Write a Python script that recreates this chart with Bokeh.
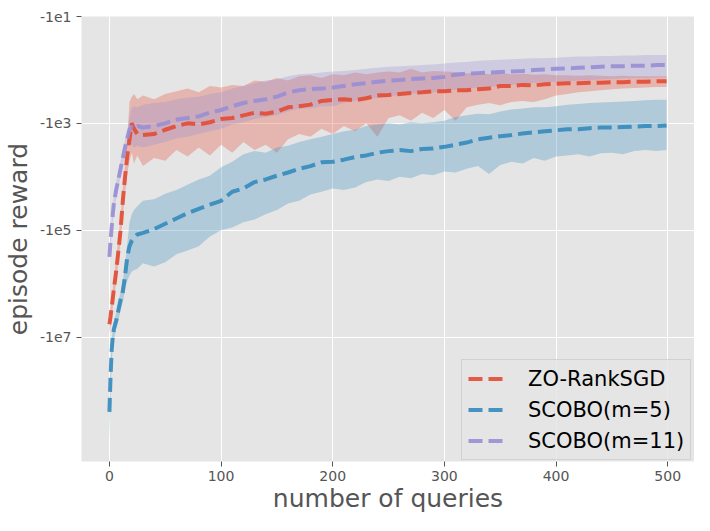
from bokeh.plotting import figure
from bokeh.models import Range1d, FixedTicker, Legend, LegendItem, ColumnDataSource
from bokeh.embed import file_html
from bokeh.resources import INLINE

# number of queries (sample positions)
queries = [0, 1, 2, 3, 4, 6, 8, 10, 12, 14, 16, 18, 20, 22, 25,
           30, 40, 50, 60, 70, 80, 90, 100, 110, 120, 130, 140, 150, 160, 170,
           180, 190, 200, 210, 220, 230, 240, 250, 260, 270, 280, 290, 300, 310,
           320, 330, 340, 350, 360, 370, 380, 390, 400, 410, 420, 430, 440, 450,
           460, 470, 480, 490, 499]

# all rewards are negative; values below are log10(-episode reward)
zo_mean = [6.76, 6.62, 6.45, 6.28, 6.1, 5.78, 5.4, 5.0, 4.45, 4.0, 3.6, 3.3, 3.0, 3.1, 3.2,
           3.22, 3.2, 3.12, 3.05, 3.0, 3.02, 2.98, 2.92, 2.9, 2.85, 2.8, 2.82, 2.78, 2.7, 2.68,
           2.65, 2.58, 2.56, 2.55, 2.57, 2.53, 2.48, 2.47, 2.45, 2.43, 2.42, 2.4, 2.4, 2.38,
           2.38, 2.36, 2.35, 2.3, 2.3, 2.28, 2.29, 2.27, 2.26, 2.25, 2.25, 2.24, 2.24, 2.23,
           2.23, 2.22, 2.22, 2.21, 2.21]
zo_top = [6.6, 6.45, 6.28, 6.1, 5.92, 5.55, 5.15, 4.75, 4.2, 3.75, 3.3, 2.6, 2.5, 2.45, 2.55,
          2.48, 2.55, 2.45, 2.4, 2.35, 2.42, 2.3, 2.33, 2.28, 2.3, 2.2, 2.22, 2.15, 2.2, 2.12,
          2.1, 2.15, 2.08, 2.1, 2.05, 2.08, 2.05, 2.03, 2.05, 1.98, 2.05, 2.02, 2.03, 2.04,
          2.06, 2.05, 2.08, 2.06, 2.08, 2.07, 2.09, 2.08, 2.1, 2.1, 2.11, 2.1, 2.11, 2.12,
          2.11, 2.12, 2.12, 2.12, 2.12]
zo_bottom = [6.95, 6.8, 6.62, 6.45, 6.28, 5.98, 5.6, 5.22, 4.75, 4.3, 3.95, 3.7, 3.55, 3.75, 3.6,
             3.8, 3.65, 3.7, 3.5, 3.62, 3.45, 3.6, 3.4, 3.55, 3.35, 3.5, 3.4, 3.55, 3.3, 3.2,
             3.25, 3.1, 3.2, 3.05, 3.15, 3.0, 3.25, 2.9, 2.85, 2.95, 2.8, 2.9, 2.75, 2.95,
             2.7, 2.65, 2.62, 2.66, 2.6, 2.58, 2.6, 2.55, 2.48, 2.45, 2.42, 2.4, 2.38, 2.36,
             2.35, 2.34, 2.33, 2.32, 2.32]

m5_mean = [8.4, 7.75, 7.25, 7.0, 6.85, 6.7, 6.5, 6.3, 6.15, 5.85, 5.5, 5.3, 5.2, 5.15, 5.08,
           5.05, 4.98, 4.88, 4.78, 4.68, 4.6, 4.52, 4.45, 4.28, 4.22, 4.1, 4.05, 3.98, 3.92, 3.85,
           3.8, 3.73, 3.72, 3.68, 3.63, 3.6, 3.55, 3.52, 3.5, 3.52, 3.48, 3.47, 3.44, 3.4,
           3.36, 3.3, 3.27, 3.24, 3.22, 3.19, 3.17, 3.15, 3.13, 3.11, 3.11, 3.09, 3.08, 3.08,
           3.07, 3.06, 3.05, 3.05, 3.04]
m5_top = [8.2, 7.6, 7.1, 6.85, 6.7, 6.55, 6.35, 6.15, 5.95, 5.65, 5.25, 4.85, 4.7, 4.62, 4.55,
          4.45, 4.42, 4.32, 4.25, 4.15, 4.05, 3.98, 3.82, 3.72, 3.58, 3.52, 3.55, 3.45, 3.42, 3.35,
          3.3, 3.25, 3.2, 3.15, 3.12, 3.05, 3.02, 3.0, 3.02, 2.98, 3.0, 2.98, 2.95, 2.88,
          2.85, 2.82, 2.83, 2.78, 2.74, 2.72, 2.7, 2.7, 2.68, 2.65, 2.64, 2.62, 2.61, 2.6,
          2.59, 2.58, 2.57, 2.56, 2.56]
m5_bottom = [8.95, 8.1, 7.5, 7.2, 7.05, 6.85, 6.7, 6.5, 6.35, 6.1, 5.95, 5.85, 5.78, 5.75, 5.72,
             5.62, 5.68, 5.6, 5.45, 5.38, 5.3, 5.12, 5.0, 4.95, 4.85, 4.8, 4.7, 4.62, 4.5, 4.45,
             4.33, 4.28, 4.22, 4.25, 4.2, 4.1, 4.05, 4.08, 4.0, 4.03, 3.95, 3.97, 3.9, 3.92,
             3.85, 3.8, 3.95, 3.78, 3.72, 3.75, 3.65, 3.7, 3.62, 3.6, 3.58, 3.62, 3.56, 3.55,
             3.58, 3.52, 3.5, 3.52, 3.5]

m11_mean = [5.5, 5.2, 4.95, 4.7, 4.5, 4.25, 4.05, 3.85, 3.65, 3.45, 3.28, 3.12, 3.06, 3.1, 3.05,
            3.08, 3.05, 3.0, 2.93, 2.9, 2.87, 2.8, 2.75, 2.68, 2.62, 2.58, 2.55, 2.5, 2.42, 2.38,
            2.36, 2.35, 2.33, 2.3, 2.27, 2.25, 2.22, 2.2, 2.19, 2.17, 2.16, 2.15, 2.13, 2.09,
            2.07, 2.06, 2.05, 2.04, 2.03, 2.02, 2.0, 1.99, 1.98, 1.97, 1.96, 1.95, 1.94, 1.93,
            1.93, 1.92, 1.92, 1.91, 1.91]
m11_top = [5.35, 5.05, 4.8, 4.55, 4.35, 4.1, 3.9, 3.7, 3.5, 3.3, 3.12, 2.88, 2.72, 2.68, 2.7,
           2.65, 2.62, 2.6, 2.55, 2.52, 2.5, 2.45, 2.42, 2.35, 2.3, 2.25, 2.2, 2.18, 2.12, 2.08,
           2.07, 2.05, 2.03, 2.02, 2.0, 1.98, 1.96, 1.94, 1.93, 1.92, 1.91, 1.9, 1.88, 1.86,
           1.85, 1.83, 1.82, 1.81, 1.8, 1.79, 1.78, 1.78, 1.77, 1.76, 1.75, 1.75, 1.74, 1.74,
           1.73, 1.73, 1.72, 1.72, 1.72]
m11_bottom = [5.65, 5.35, 5.1, 4.85, 4.65, 4.4, 4.2, 4.0, 3.8, 3.6, 3.45, 3.35, 3.4, 3.45, 3.42,
              3.45, 3.4, 3.35, 3.28, 3.25, 3.2, 3.15, 3.1, 3.02, 2.98, 2.92, 2.88, 2.85, 2.78, 2.72,
              2.72, 2.68, 2.68, 2.62, 2.58, 2.55, 2.52, 2.5, 2.47, 2.45, 2.43, 2.42, 2.4, 2.37,
              2.35, 2.33, 2.32, 2.3, 2.28, 2.26, 2.24, 2.23, 2.22, 2.21, 2.2, 2.19, 2.18, 2.17,
              2.16, 2.15, 2.15, 2.14, 2.14]

series_names = ["ZO-RankSGD", "SCOBO(m=5)", "SCOBO(m=11)"]
series_colors = ["#E24A33", "#348ABD", "#988ED5"]

x_ticks = [0, 100, 200, 300, 400, 500]
y_tick_pos = [1, 3, 5, 7]
y_tick_labels = ["-1e1", "-1e3", "-1e5", "-1e7"]

FONT = "DejaVu Sans"

p = figure(width=694, height=515, output_backend="svg", toolbar_location=None,
           x_range=Range1d(-25, 524), y_range=Range1d(9.33, 1.0),
           min_border_left=81, min_border_right=0, min_border_top=16, min_border_bottom=54)
p.background_fill_color = "#E5E5E5"
p.border_fill_color = "white"
p.outline_line_color = None

source = ColumnDataSource(dict(x=queries,
                               zo_mean=zo_mean, zo_top=zo_top, zo_bottom=zo_bottom,
                               m5_mean=m5_mean, m5_top=m5_top, m5_bottom=m5_bottom,
                               m11_mean=m11_mean, m11_top=m11_top, m11_bottom=m11_bottom))

keys = ["zo", "m5", "m11"]
for k, c in zip(keys, series_colors):
    p.varea(x="x", y1=k + "_top", y2=k + "_bottom", source=source,
            fill_color=c, fill_alpha=0.3)

renderers = []
for k, c in zip(keys, series_colors):
    r = p.line(x="x", y=k + "_mean", source=source, line_color=c, line_alpha=0.9,
               line_width=4, line_dash="14 6")
    renderers.append(r)

# axes
p.xaxis.ticker = FixedTicker(ticks=x_ticks)
p.yaxis.ticker = FixedTicker(ticks=y_tick_pos)
p.yaxis.major_label_overrides = dict(zip(y_tick_pos, y_tick_labels))
p.xaxis.axis_label = "number of queries"
p.yaxis.axis_label = "episode reward"
for ax in (p.xaxis[0], p.yaxis[0]):
    ax.axis_line_color = None
    ax.major_tick_line_color = "#555555"
    ax.major_tick_out = 5
    ax.major_tick_in = 0
    ax.minor_tick_line_color = None
    ax.major_label_text_font = FONT
    ax.major_label_text_font_size = "14px"
    ax.major_label_text_color = "#555555"
    ax.axis_label_text_font = FONT
    ax.axis_label_text_font_size = "25px"
    ax.axis_label_text_font_style = "normal"
    ax.axis_label_text_color = "#555555"
p.xaxis.major_label_standoff = 4
p.yaxis.major_label_standoff = 5
p.xaxis.axis_label_standoff = 0
p.yaxis.axis_label_standoff = 4

p.xgrid.grid_line_color = "white"
p.ygrid.grid_line_color = "white"
p.xgrid.grid_line_width = 1
p.ygrid.grid_line_width = 1

legend = Legend(items=[LegendItem(label=n, renderers=[r]) for n, r in zip(series_names, renderers)],
                location=(380, 1))
legend.label_text_font = FONT
legend.label_text_font_size = "21px"
legend.label_text_color = "black"
legend.glyph_width = 37
legend.glyph_height = 25
legend.label_height = 25
legend.label_standoff = 23
legend.spacing = 6
legend.padding = 6
legend.margin = 0
legend.background_fill_color = "#E5E5E5"
legend.background_fill_alpha = 0.8
legend.border_line_color = "#CCCCCC"
legend.border_line_alpha = 0.8
p.add_layout(legend)

open("out.html", "w").write(file_html(p, INLINE))
